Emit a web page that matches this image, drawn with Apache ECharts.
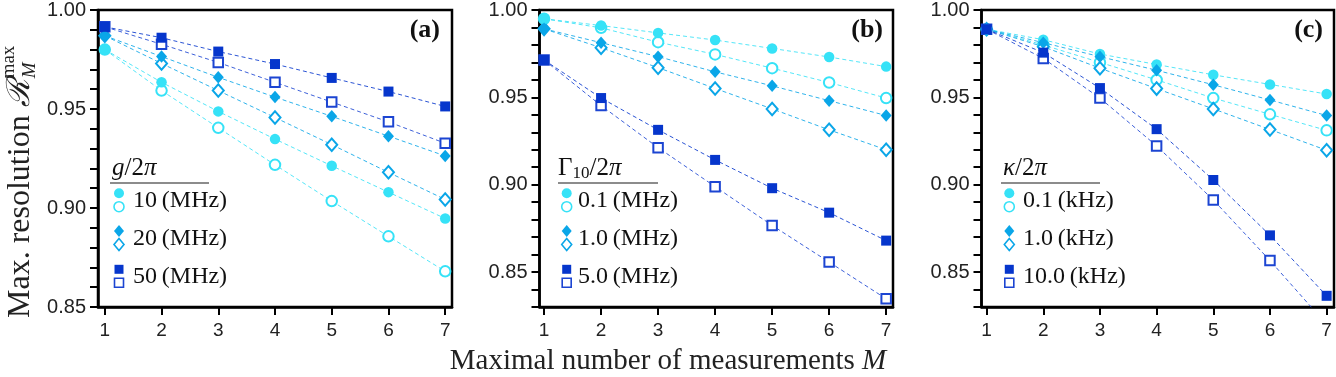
<!DOCTYPE html>
<html>
<head>
<meta charset="utf-8">
<script src="https://cdn.jsdelivr.net/npm/echarts@6/dist/echarts.min.js"></script>
<style>
  html, body { margin: 0; padding: 0; background: #fff; }
  #chart { width: 1336px; height: 377px; }
</style>
</head>
<body>
<div id="chart"></div>
<script>
  // x values (M) shared by all panels
  const mValues = [1, 2, 3, 4, 5, 6, 7]

  // panel (a): g/2pi
  const aG10Filled = [0.980, 0.9635, 0.9488, 0.9348, 0.9213, 0.908, 0.8947]
  const aG10Open = [0.980, 0.9593, 0.9405, 0.9218, 0.9035, 0.8857, 0.868]
  const aG20Filled = [0.987, 0.9765, 0.966, 0.956, 0.9463, 0.9363, 0.9263]
  const aG20Open = [0.987, 0.973, 0.9593, 0.9457, 0.932, 0.918, 0.9043]
  const aG50Filled = [0.9915, 0.986, 0.979, 0.9727, 0.9657, 0.9588, 0.9513]
  const aG50Open = [0.9915, 0.9827, 0.9735, 0.9635, 0.9535, 0.9435, 0.9327]

  // panel (b): Gamma10/2pi
  const bG01Filled = [0.995, 0.9911, 0.9869, 0.9828, 0.978, 0.9731, 0.9676]
  const bG01Open = [0.995, 0.9898, 0.9816, 0.9746, 0.9667, 0.9585, 0.9496]
  const bG10Filled = [0.9892, 0.9813, 0.9733, 0.9646, 0.9566, 0.9481, 0.9396]
  const bG10Open = [0.9892, 0.9784, 0.967, 0.9551, 0.9434, 0.9314, 0.920]
  const bG50Filled = [0.9714, 0.9496, 0.9314, 0.9142, 0.898, 0.884, 0.868]
  const bG50Open = [0.9714, 0.9453, 0.9212, 0.8989, 0.8767, 0.8557, 0.8347]

  // panel (c): kappa/2pi
  const cK01Filled = [0.989, 0.983, 0.9748, 0.9688, 0.9629, 0.9574, 0.9519]
  const cK01Open = [0.989, 0.980, 0.970, 0.960, 0.9496, 0.9403, 0.9311]
  const cK10Filled = [0.989, 0.9813, 0.9733, 0.9655, 0.9572, 0.9485, 0.9396]
  const cK10Open = [0.989, 0.979, 0.9667, 0.955, 0.9434, 0.9316, 0.9197]
  const cK100Filled = [0.989, 0.9756, 0.9553, 0.9318, 0.9027, 0.871, 0.8364]
  const cK100Open = [0.989, 0.9723, 0.9496, 0.9222, 0.8913, 0.8566, 0.820]

  // tick labels
  const xTicks = [1, 2, 3, 4, 5, 6, 7]
  const yLabelTicks = [0.85, 0.90, 0.95, 1.00]
  const yMinorTicksA = [0.85, 0.86, 0.87, 0.88, 0.89, 0.90, 0.91, 0.92, 0.93, 0.94, 0.95, 0.96, 0.97, 0.98, 0.99, 1.00]
  const yMinorTicksBC = [0.83, 0.84].concat(yMinorTicksA)

  // legend texts
  const legendA = ['10\u2009(MHz)', '20\u2009(MHz)', '50\u2009(MHz)']
  const legendB = ['0.1\u2009(MHz)', '1.0\u2009(MHz)', '5.0\u2009(MHz)']
  const legendC = ['0.1\u2009(kHz)', '1.0\u2009(kHz)', '10.0\u2009(kHz)']

  const SERIF = '"Liberation Serif", "DejaVu Serif", serif'
  const SANS = '"Liberation Sans", Arial, sans-serif'
  const C_CIRCLE = '#36e2f7'
  const C_DIAMOND = '#0aa6e8'
  const C_SQUARE = '#0636cc'
  const C_SQUARE_OPEN = '#1c45d2'

  const grids = [
    { left: 98, top: 7, width: 354, height: 300 },
    { left: 539.5, top: 7, width: 353.5, height: 300 },
    { left: 981.5, top: 7, width: 352.5, height: 300 }
  ]
  const xRanges = [[0.88, 7.12], [0.92, 7.12], [0.91, 7.13]]
  const yMins = [0.85, 0.83, 0.83]

  function makeSeries (gi, values, symbol, color, filled) {
    const sizes = { circle: 10.5, diamond: [11, 12.5], rect: 10 }
    return {
      type: 'line',
      xAxisIndex: gi,
      yAxisIndex: gi,
      data: mValues.map((m, i) => [m, values[i]]),
      symbol: filled ? symbol : 'empty' + symbol[0].toUpperCase() + symbol.slice(1),
      symbolSize: filled ? sizes[symbol] : (symbol === 'rect' ? 9.5 : sizes[symbol]),
      showAllSymbol: true,
      lineStyle: { color: color, width: 1, type: [4, 3], opacity: 0.85 },
      itemStyle: { color: color, borderColor: color, borderWidth: filled ? 0 : 1.6 },
      emphasis: { disabled: true },
      silent: true,
      z: filled ? 3 : 2
    }
  }

  function legendMarker (sym, cx, cy, color, filled) {
    const style = filled ? { fill: color } : { fill: '#fff', stroke: color, lineWidth: 1.6 }
    if (sym === 'circle') return { type: 'circle', shape: { cx: cx, cy: cy, r: 5 }, style: style }
    if (sym === 'diamond') {
      return { type: 'polygon', shape: { points: [[cx, cy - 6], [cx + 5, cy], [cx, cy + 6], [cx - 5, cy]] }, style: style }
    }
    return { type: 'rect', shape: { x: cx - 4.5, y: cy - 4.5, width: 9, height: 9 }, style: style }
  }

  function legendBlock (title, titleX, lineX1, lineX2, markerX, textX, labels) {
    const els = []
    els.push({
      type: 'text', x: titleX, y: 168,
      style: {
        text: title, font: '25px ' + SERIF, fill: '#111', align: 'left', verticalAlign: 'middle',
        rich: {
          i: { fontFamily: SERIF, fontStyle: 'italic', fontSize: 25 },
          s: { fontFamily: SERIF, fontSize: 17, verticalAlign: 'bottom', padding: [11, 0, 0, 0] }
        }
      }
    })
    els.push({ type: 'line', shape: { x1: lineX1, y1: 183, x2: lineX2, y2: 183 }, style: { stroke: '#666', lineWidth: 1.3 } })
    const rows = [
      { sym: 'circle', cy: 200, color: C_CIRCLE, open: C_CIRCLE },
      { sym: 'diamond', cy: 237.7, color: C_DIAMOND, open: C_DIAMOND },
      { sym: 'rect', cy: 276, color: C_SQUARE, open: C_SQUARE_OPEN }
    ]
    rows.forEach((r, i) => {
      els.push(legendMarker(r.sym, markerX, r.cy - 6.7, r.color, true))
      els.push(legendMarker(r.sym, markerX, r.cy + 6.7, r.open, false))
      els.push({
        type: 'text', x: textX, y: r.cy + 1,
        style: { text: labels[i], font: '24px ' + SERIF, fill: '#111', align: 'left', verticalAlign: 'middle' }
      })
    })
    return els
  }

  // measure text widths for y-axis title pieces
  const ctx = document.createElement('canvas').getContext('2d')
  const yTitleFont = '32px ' + SERIF
  ctx.font = yTitleFont
  const wMain = ctx.measureText('Max. resolution ').width
  ctx.font = 'italic 32px ' + SERIF
  const wR = ctx.measureText('\u211B').width

  const chart = echarts.init(document.getElementById('chart'), null, { renderer: 'canvas' })

  const option = {
    animation: false,
    backgroundColor: '#fff',
    grid: grids.map(g => Object.assign({ show: true, borderColor: '#000', borderWidth: 2.5, backgroundColor: 'transparent' }, g)),
    xAxis: grids.map((g, i) => ({
      type: 'value',
      gridIndex: i,
      min: xRanges[i][0],
      max: xRanges[i][1],
      axisLine: { show: true, onZero: false, lineStyle: { color: '#000', width: 2.5 } },
      axisTick: { show: true, inside: false, length: 8, customValues: xTicks, lineStyle: { color: '#000', width: 2 } },
      axisLabel: { customValues: xTicks, margin: 14, color: '#222', fontFamily: SANS, fontSize: 19 },
      splitLine: { show: false }
    })),
    yAxis: grids.map((g, i) => ({
      type: 'value',
      gridIndex: i,
      min: yMins[i],
      max: 1.0,
      axisLine: { show: true, onZero: false, lineStyle: { color: '#000', width: 2.5 } },
      axisTick: { show: true, inside: false, length: 8, customValues: i === 0 ? yMinorTicksA : yMinorTicksBC, lineStyle: { color: '#000', width: 2 } },
      axisLabel: { customValues: yLabelTicks, margin: 12, color: '#222', fontFamily: SANS, fontSize: 20, formatter: v => v.toFixed(2) },
      splitLine: { show: false }
    })),
    series: [
      makeSeries(0, aG10Open, 'circle', C_CIRCLE, false),
      makeSeries(0, aG10Filled, 'circle', C_CIRCLE, true),
      makeSeries(0, aG20Open, 'diamond', C_DIAMOND, false),
      makeSeries(0, aG20Filled, 'diamond', C_DIAMOND, true),
      makeSeries(0, aG50Open, 'rect', C_SQUARE_OPEN, false),
      makeSeries(0, aG50Filled, 'rect', C_SQUARE, true),

      makeSeries(1, bG01Open, 'circle', C_CIRCLE, false),
      makeSeries(1, bG01Filled, 'circle', C_CIRCLE, true),
      makeSeries(1, bG10Open, 'diamond', C_DIAMOND, false),
      makeSeries(1, bG10Filled, 'diamond', C_DIAMOND, true),
      makeSeries(1, bG50Open, 'rect', C_SQUARE_OPEN, false),
      makeSeries(1, bG50Filled, 'rect', C_SQUARE, true),

      makeSeries(2, cK01Open, 'circle', C_CIRCLE, false),
      makeSeries(2, cK01Filled, 'circle', C_CIRCLE, true),
      makeSeries(2, cK10Open, 'diamond', C_DIAMOND, false),
      makeSeries(2, cK10Filled, 'diamond', C_DIAMOND, true),
      makeSeries(2, cK100Open, 'rect', C_SQUARE_OPEN, false),
      makeSeries(2, cK100Filled, 'rect', C_SQUARE, true)
    ],
    graphic: {
      elements: [
        // panel labels
        { type: 'text', x: 440, y: 30, style: { text: '(a)', font: 'bold 26px ' + SERIF, fill: '#111', align: 'right', verticalAlign: 'middle' } },
        { type: 'text', x: 883, y: 30, style: { text: '(b)', font: 'bold 26px ' + SERIF, fill: '#111', align: 'right', verticalAlign: 'middle' } },
        { type: 'text', x: 1323, y: 30, style: { text: '(c)', font: 'bold 26px ' + SERIF, fill: '#111', align: 'right', verticalAlign: 'middle' } },
        // x-axis title
        {
          type: 'text', x: 668, y: 361,
          style: {
            text: 'Maximal number of measurements {i|M}', font: '29px ' + SERIF, fill: '#222', align: 'center', verticalAlign: 'middle',
            rich: { i: { fontFamily: SERIF, fontStyle: 'italic', fontSize: 29 } }
          }
        },
        // y-axis title (rotated)
        {
          type: 'group', x: 21, y: 318, rotation: Math.PI / 2,
          children: [
            { type: 'text', x: 0, y: 0, style: { text: 'Max. resolution ', font: yTitleFont, fill: '#222', align: 'left', verticalAlign: 'middle' } },
            { type: 'text', x: wMain, y: 0, style: { text: '\u211B', font: 'italic 32px ' + SERIF, fill: '#222', align: 'left', verticalAlign: 'middle' } },
            { type: 'text', x: wMain + wR + 1, y: 9, style: { text: 'M', font: 'italic 19px ' + SERIF, fill: '#222', align: 'left', verticalAlign: 'middle' } },
            { type: 'text', x: wMain + wR + 1, y: -12, style: { text: 'max', font: '19px ' + SERIF, fill: '#222', align: 'left', verticalAlign: 'middle' } }
          ]
        }
      ]
        .concat(legendBlock('{i|g}/2{i|\u03C0}', 112, 110, 209, 119, 133, legendA))
        .concat(legendBlock('\u0393{s|10}/2{i|\u03C0}', 558, 558, 658, 566.7, 578, legendB))
        .concat(legendBlock('{i|\u03BA}/2{i|\u03C0}', 1003, 1001, 1100, 1009.3, 1023, legendC))
    }
  }

  chart.setOption(option)
  window.addEventListener('resize', () => {
    chart.resize()
  })
</script>
</body>
</html>
